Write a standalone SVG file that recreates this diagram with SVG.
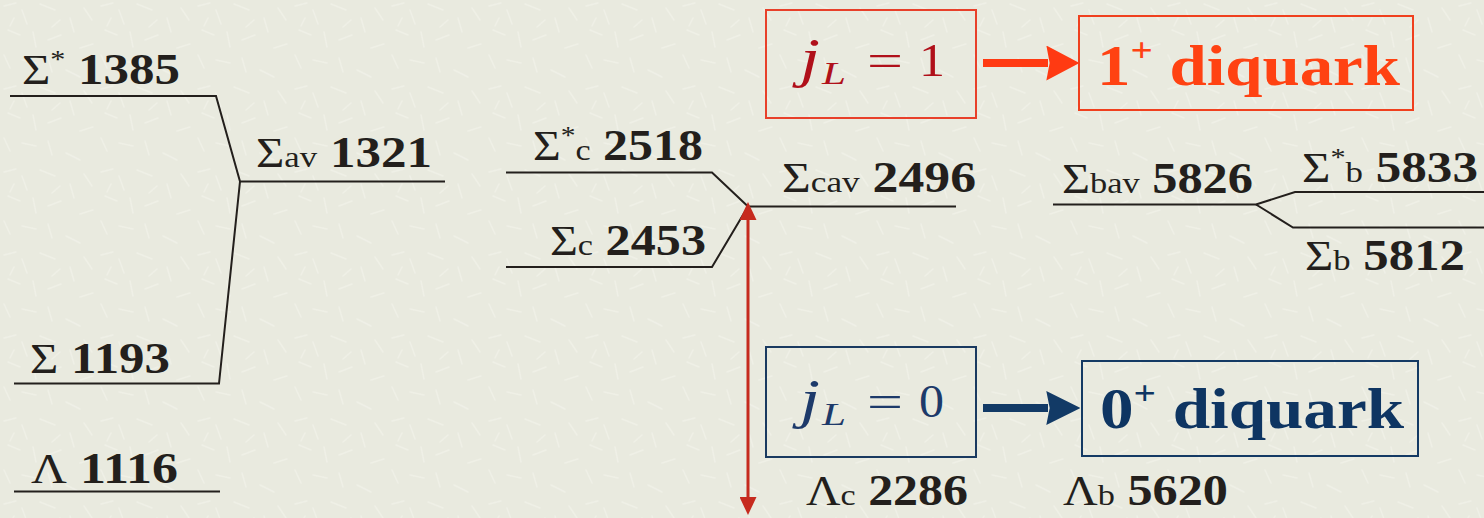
<svg xmlns="http://www.w3.org/2000/svg" width="1484" height="518" viewBox="0 0 1484 518">
<style>
.t{fill:#231f1c}
.s{font-size:42px}
.b{font-size:30px}
.n{font-size:44px;font-weight:bold}
.u{font-size:26px}
.lv{stroke:#231f1c;stroke-width:2;fill:none}
.mj{font-size:54px;font-style:italic}
.ml{font-size:31px;font-style:italic}
.me{font-size:46px}
.dq{font-size:58px;font-weight:bold}
.tx{stroke:#f5f5ee;stroke-width:1.5;stroke-linecap:round;opacity:0.5}
</style>
<defs>
<pattern id="bgTex" width="97" height="83" patternUnits="userSpaceOnUse">
<rect width="97" height="83" fill="#e9eadf"/>
<path class="tx" d="M4,6 L16,3 M22,10 L27,24 M40,4 L55,10 M70,18 L74,32 M8,30 L20,35 M33,32 L36,47 M48,40 L61,35 M4,55 L10,68 M22,60 L36,63 M48,58 L52,72 M84,8 L92,20 M80,48 L93,44 M66,70 L80,77 M60,20 L52,27 M14,18 L10,26"/>
</pattern>
<marker id="mRed" viewBox="0 0 10 10" refX="0" refY="5" markerWidth="18" markerHeight="17" markerUnits="userSpaceOnUse" orient="auto-start-reverse" preserveAspectRatio="none"><path d="M0,0 L10,5 L0,10 z" fill="#c62a1e"/></marker>
<marker id="mOr" viewBox="0 0 10 10" refX="0.5" refY="5" markerWidth="33" markerHeight="35" markerUnits="userSpaceOnUse" orient="auto" preserveAspectRatio="none"><path d="M0,0 L10,5 L0,10 L1,5 z" fill="#ff3a12"/></marker>
<marker id="mBl" viewBox="0 0 10 10" refX="0.5" refY="5" markerWidth="34" markerHeight="34" markerUnits="userSpaceOnUse" orient="auto" preserveAspectRatio="none"><path d="M0,0 L10,5 L0,10 L1,5 z" fill="#123a66"/></marker>
</defs>
<rect width="1484" height="518" fill="url(#bgTex)"/>

<g id="connectors">
<path class="lv" d="M10,96 H216 L240,181.5 H445"/>
<path class="lv" d="M240,181.5 L219,383.5 H14"/>
<path class="lv" d="M14,491.5 H220"/>
<path class="lv" d="M506,172.5 H712 L748,206.5 H956"/>
<path class="lv" d="M506,267 H712 L748,206.5"/>
<path class="lv" d="M1053,204.5 H1256 L1295,192 H1484"/>
<path class="lv" d="M1256,204.5 L1293,227.5 H1484"/>
<line x1="748" y1="220" x2="748" y2="497" stroke="#c62a1e" stroke-width="3" marker-start="url(#mRed)" marker-end="url(#mRed)"/>
<line x1="983" y1="63" x2="1048" y2="63" stroke="#ff3a12" stroke-width="8" marker-end="url(#mOr)"/>
<line x1="983" y1="408" x2="1048" y2="408" stroke="#123a66" stroke-width="8" marker-end="url(#mBl)"/>
</g>

<g font-family="'Liberation Serif', 'Times New Roman', serif">
<g id="n-sigmastar1385"><text class="t" x="22" y="84" textLength="158" lengthAdjust="spacingAndGlyphs"><tspan class="s">Σ</tspan><tspan class="u" dy="-16">*</tspan><tspan class="n" dy="16"> 1385</tspan></text></g>
<g id="n-sigmaav1321"><text class="t" x="256" y="167" textLength="176" lengthAdjust="spacingAndGlyphs"><tspan class="s">Σ</tspan><tspan class="b">av</tspan><tspan class="n"> 1321</tspan></text></g>
<g id="n-sigma1193"><text class="t" x="30" y="373" textLength="140" lengthAdjust="spacingAndGlyphs"><tspan class="s">Σ</tspan><tspan class="n"> 1193</tspan></text></g>
<g id="n-lambda1116"><text class="t" x="31" y="483" textLength="147" lengthAdjust="spacingAndGlyphs"><tspan class="s">Λ</tspan><tspan class="n"> 1116</tspan></text></g>

<g id="n-sigmastarc2518"><text class="t" x="533" y="160" textLength="170" lengthAdjust="spacingAndGlyphs"><tspan class="s">Σ</tspan><tspan class="u" dy="-16">*</tspan><tspan class="b" dy="16">c</tspan><tspan class="n"> 2518</tspan></text></g>
<g id="n-sigmacav2496"><text class="t" x="782" y="192" textLength="194" lengthAdjust="spacingAndGlyphs"><tspan class="s">Σ</tspan><tspan class="b">cav</tspan><tspan class="n"> 2496</tspan></text></g>
<g id="n-sigmac2453"><text class="t" x="550" y="255" textLength="156" lengthAdjust="spacingAndGlyphs"><tspan class="s">Σ</tspan><tspan class="b">c</tspan><tspan class="n"> 2453</tspan></text></g>

<g id="n-sigmabav5826"><text class="t" x="1062" y="193" textLength="191" lengthAdjust="spacingAndGlyphs"><tspan class="s">Σ</tspan><tspan class="b">bav</tspan><tspan class="n"> 5826</tspan></text></g>
<g id="n-sigmastarb5833"><text class="t" x="1302" y="182" textLength="176" lengthAdjust="spacingAndGlyphs"><tspan class="s">Σ</tspan><tspan class="u" dy="-16">*</tspan><tspan class="b" dy="16">b</tspan><tspan class="n"> 5833</tspan></text></g>
<g id="n-sigmab5812"><text class="t" x="1305" y="270" textLength="160" lengthAdjust="spacingAndGlyphs"><tspan class="s">Σ</tspan><tspan class="b">b</tspan><tspan class="n"> 5812</tspan></text></g>

<g id="n-lambdac2286"><text class="t" x="806" y="505" textLength="162" lengthAdjust="spacingAndGlyphs"><tspan class="s">Λ</tspan><tspan class="b">c</tspan><tspan class="n"> 2286</tspan></text></g>
<g id="n-lambdab5620"><text class="t" x="1063" y="505" textLength="165" lengthAdjust="spacingAndGlyphs"><tspan class="s">Λ</tspan><tspan class="b">b</tspan><tspan class="n"> 5620</tspan></text></g>

<g id="n-jl1" fill="#b0101a">
<rect x="766" y="10" width="210" height="108" fill="none" stroke="#e8402a" stroke-width="2"/>
<text class="mj" x="800" y="76" textLength="20" lengthAdjust="spacingAndGlyphs">j</text>
<text class="ml" x="822" y="84" textLength="24" lengthAdjust="spacingAndGlyphs">L</text>
<text class="me" x="867" y="76" textLength="36" lengthAdjust="spacingAndGlyphs">=</text>
<text class="me" x="919" y="76" textLength="26" lengthAdjust="spacingAndGlyphs">1</text>
</g>
<g id="n-diquark1">
<rect x="1079" y="16" width="334" height="94" fill="none" stroke="#f0401e" stroke-width="2"/>
<text class="dq" x="1097" y="85" fill="#ff4212" textLength="303" lengthAdjust="spacingAndGlyphs">1<tspan font-size="34" dy="-24">+</tspan><tspan dy="24"> diquark</tspan></text>
</g>
<g id="n-jl0" fill="#1d3a6a">
<rect x="766" y="347" width="210" height="110" fill="none" stroke="#1a3a60" stroke-width="2"/>
<text class="mj" x="800" y="417" textLength="20" lengthAdjust="spacingAndGlyphs">j</text>
<text class="ml" x="822" y="425" textLength="24" lengthAdjust="spacingAndGlyphs">L</text>
<text class="me" x="867" y="417" textLength="36" lengthAdjust="spacingAndGlyphs">=</text>
<text class="me" x="919" y="417" textLength="25" lengthAdjust="spacingAndGlyphs">0</text>
</g>
<g id="n-diquark0">
<rect x="1082" y="361" width="336" height="95" fill="none" stroke="#143a64" stroke-width="2"/>
<text class="dq" x="1100" y="428" fill="#0e3562" textLength="304" lengthAdjust="spacingAndGlyphs">0<tspan font-size="34" dy="-24">+</tspan><tspan dy="24"> diquark</tspan></text>
</g>
</g>
</svg>
